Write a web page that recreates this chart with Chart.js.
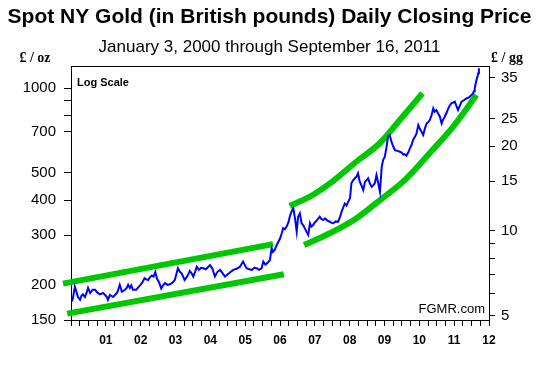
<!DOCTYPE html>
<html lang="en">
<head>
    <meta charset="UTF-8">
    <title>Spot NY Gold in British pounds</title>
    <style>
        body { margin: 0; background: #fff; }
        .container { width: 539px; height: 369px; position: relative; }
    </style>
</head>
<body>
    <div class="container">
        <canvas id="gold-chart"></canvas>
    </div>
    <script src="https://cdn.jsdelivr.net/npm/chart.js"></script>

    <script>
        // GOLD PRICE (decimal year, £ per troy ounce)

        const tradeYears = [
            2000.01, 2000.05, 2000.11, 2000.15, 2000.20, 2000.26, 2000.30, 2000.34, 2000.40, 2000.46,
            2000.49, 2000.55, 2000.62, 2000.69, 2000.75, 2000.83, 2000.92, 2000.98, 2001.03, 2001.06,
            2001.12, 2001.21, 2001.26, 2001.33, 2001.40, 2001.46, 2001.55, 2001.60, 2001.64, 2001.69,
            2001.73, 2001.78, 2001.87, 2001.93, 2001.98, 2002.05, 2002.11, 2002.16, 2002.21, 2002.27,
            2002.32, 2002.37, 2002.42, 2002.47, 2002.53, 2002.59, 2002.64, 2002.70, 2002.77, 2002.84,
            2002.92, 2002.98, 2003.07, 2003.12, 2003.17, 2003.22, 2003.26, 2003.31, 2003.36, 2003.41,
            2003.47, 2003.51, 2003.56, 2003.61, 2003.67, 2003.73, 2003.80, 2003.87, 2003.93, 2003.99,
            2004.06, 2004.13, 2004.20, 2004.28, 2004.35, 2004.42, 2004.50, 2004.58, 2004.66, 2004.75,
            2004.85, 2004.94, 2004.99, 2005.04, 2005.12, 2005.19, 2005.26, 2005.33, 2005.40, 2005.47,
            2005.52, 2005.58, 2005.64, 2005.71, 2005.76, 2005.80, 2005.85, 2005.90, 2005.95, 2006.00,
            2006.05, 2006.09, 2006.14, 2006.19, 2006.24, 2006.28, 2006.33, 2006.38, 2006.43, 2006.48,
            2006.52, 2006.57, 2006.62, 2006.67, 2006.71, 2006.76, 2006.81, 2006.86, 2006.90, 2006.95,
            2007.00, 2007.07, 2007.14, 2007.19, 2007.24, 2007.30, 2007.36, 2007.43, 2007.48, 2007.53,
            2007.60, 2007.67, 2007.72, 2007.77, 2007.82, 2007.86, 2007.91, 2007.96, 2008.01, 2008.05,
            2008.10, 2008.15, 2008.20, 2008.24, 2008.29, 2008.34, 2008.39, 2008.44, 2008.48, 2008.53,
            2008.58, 2008.63, 2008.68, 2008.72, 2008.77, 2008.82, 2008.87, 2008.92, 2008.96, 2009.01,
            2009.06, 2009.10, 2009.15, 2009.20, 2009.25, 2009.30, 2009.37, 2009.44, 2009.49, 2009.54,
            2009.58, 2009.63, 2009.68, 2009.73, 2009.78, 2009.82, 2009.87, 2009.92, 2009.97, 2010.02,
            2010.06, 2010.11, 2010.16, 2010.21, 2010.25, 2010.30, 2010.35, 2010.40, 2010.44, 2010.49,
            2010.54, 2010.59, 2010.64, 2010.68, 2010.73, 2010.78, 2010.83, 2010.87, 2010.92, 2010.97,
            2011.02, 2011.07, 2011.11, 2011.16, 2011.21, 2011.28, 2011.35, 2011.42, 2011.50, 2011.54,
            2011.57, 2011.59, 2011.62, 2011.64, 2011.67, 2011.69, 2011.71
        ]

        const gbpPerOz = [
            174, 178, 197, 190, 181, 177, 183, 185, 181, 189,
            195, 187, 192, 192, 188, 185, 187, 184, 181, 177,
            184, 181, 184, 188, 200, 189, 192, 195, 200, 195,
            199, 192, 192, 196, 199, 204, 211, 209, 208, 213,
            216, 214, 222, 210, 204, 194, 199, 203, 200, 201,
            204, 208, 229, 223, 220, 214, 208, 212, 217, 224,
            219, 214, 222, 232, 226, 230, 229, 227, 231, 235,
            228, 214, 222, 226, 220, 214, 218, 222, 226, 228,
            232, 242, 235, 229, 227, 226, 230, 229, 226, 229,
            242, 236, 239, 245, 270, 262, 266, 276, 284, 292,
            305, 318, 315, 322, 333, 349, 364, 374, 345, 309,
            349, 359, 331, 325, 318, 309, 301, 331, 322, 326,
            333, 340, 349, 342, 340, 344, 338, 335, 332, 331,
            336, 335, 348, 364, 378, 389, 383, 395, 406, 459,
            470, 478, 485, 498, 465, 450, 434, 465, 470, 478,
            458, 446, 452, 459, 491, 459, 428, 525, 555, 570,
            619, 671, 681, 645, 620, 602, 598, 594, 590, 580,
            582, 575, 590, 611, 630, 654, 670, 690, 739, 715,
            700, 681, 719, 749, 755, 770, 800, 847, 824, 835,
            812, 791, 749, 772, 791, 815, 847, 865, 882, 888,
            894, 860, 835, 865, 894, 905, 919, 925, 944, 958,
            975, 998, 1040, 1068, 1100, 1128, 1175
        ]

        // TREND CHANNELS (green)

        const earlyTopYears = [1999.77, 2005.80]
        const earlyTopPrices = [202, 279]
        const earlyBottomYears = [1999.89, 2006.11]
        const earlyBottomPrices = [158, 218]

        const lateTopYears = [2006.28, 2006.94, 2007.52, 2008.18, 2008.87, 2009.44, 2010.09]
        const lateTopPrices = [381, 417, 467, 546, 638, 770, 958]
        const lateBottomYears = [2006.69, 2007.43, 2008.20, 2008.87, 2009.58, 2010.30, 2010.96, 2011.64]
        const lateBottomPrices = [277, 305, 345, 400, 471, 588, 727, 944]

        // AXES

        const ozTicks = [150, 200, 300, 400, 500, 700, 800, 900, 1000]
        const ozLabels = [150, 200, 300, 400, 500, 700, 1000]
        const ggTicks = [5, 6, 7, 8, 9, 10, 15, 20, 25, 35]
        const ggLabels = [5, 10, 15, 20, 25, 35]
        const gramsPerOz = 31.1035
        const ozMin = 150
        const ozMax = 1197.5
    </script>

    <script>
        const toPoints = (xs, ys) => xs.map((x, i) => ({ x: x, y: ys[i] }));

        const greenLine = (xs, ys, curved) => ({
            data: toPoints(xs, ys),
            borderColor: '#00c800',
            borderWidth: 6,
            pointRadius: 0,
            tension: curved ? 0.4 : 0,
            cubicInterpolationMode: curved ? 'monotone' : 'default',
            clip: false,
            order: 2
        });

        // frame top line and the loose labels
        const extras = {
            id: 'extras',
            afterDraw(chart) {
                const { ctx, chartArea: a } = chart;
                ctx.save();
                ctx.strokeStyle = '#000';
                ctx.lineWidth = 1;
                ctx.beginPath();
                ctx.moveTo(a.left, a.top + 0.5);
                ctx.lineTo(a.right, a.top + 0.5);
                ctx.stroke();

                ctx.fillStyle = '#000';
                ctx.textBaseline = 'middle';
                ctx.font = 'bold 14px "Liberation Serif", serif';
                ctx.textAlign = 'center';
                ctx.fillText('£ / oz', 35, a.top - 8);
                ctx.fillText('£ / gg', a.right + 18, a.top - 8);

                ctx.textAlign = 'left';
                ctx.font = 'bold 11px Arial, "Liberation Sans", sans-serif';
                ctx.fillText('Log Scale', a.left + 6, a.top + 17);

                ctx.textAlign = 'right';
                ctx.font = '13px Arial, "Liberation Sans", sans-serif';
                ctx.fillText('FGMR.com', a.right - 4, a.bottom - 11);
                ctx.restore();
            }
        };

        Chart.defaults.font.family = 'Arial, "Liberation Sans", sans-serif';
        Chart.defaults.color = '#000';

        new Chart(document.getElementById('gold-chart'), {
            type: 'line',
            data: {
                datasets: [
                    {
                        label: 'Gold £/oz',
                        data: toPoints(tradeYears, gbpPerOz),
                        borderColor: '#0000ff',
                        borderWidth: 2,
                        pointRadius: 0,
                        tension: 0,
                        order: 1
                    },
                    greenLine(earlyTopYears, earlyTopPrices, false),
                    greenLine(earlyBottomYears, earlyBottomPrices, false),
                    greenLine(lateTopYears, lateTopPrices, true),
                    greenLine(lateBottomYears, lateBottomPrices, true)
                ]
            },
            options: {
                responsive: true,
                maintainAspectRatio: false,
                animation: false,
                layout: { padding: 0 },
                scales: {
                    x: {
                        type: 'linear',
                        min: 2000,
                        max: 2012,
                        afterBuildTicks: (scale) => {
                            const ticks = [];
                            for (let q = 0; q <= 48; q++) ticks.push({ value: 2000 + q / 4 });
                            scale.ticks = ticks;
                        },
                        afterFit: (scale) => { scale.height = 49; },
                        ticks: {
                            autoSkip: false,
                            maxRotation: 0,
                            minRotation: 0,
                            padding: 7,
                            font: { size: 12, weight: 'bold' },
                            callback: (v) => (Number.isInteger(v) && v > 2000) ? String(v).slice(2) : ''
                        },
                        grid: { drawOnChartArea: false, tickLength: 6, color: '#000' },
                        border: { color: '#000' }
                    },
                    y: {
                        type: 'logarithmic',
                        position: 'left',
                        min: ozMin,
                        max: ozMax,
                        afterBuildTicks: (scale) => { scale.ticks = ozTicks.map(v => ({ value: v })); },
                        afterFit: (scale) => { scale.width = 71; },
                        ticks: {
                            autoSkip: false,
                            padding: 8,
                            font: { size: 15 },
                            callback: (v) => ozLabels.includes(v) ? String(v) : ''
                        },
                        grid: { drawOnChartArea: false, tickLength: 7, color: '#000' },
                        border: { color: '#000' }
                    },
                    gg: {
                        type: 'logarithmic',
                        position: 'right',
                        min: ozMin / gramsPerOz,
                        max: ozMax / gramsPerOz,
                        afterBuildTicks: (scale) => { scale.ticks = ggTicks.map(v => ({ value: v })); },
                        afterFit: (scale) => { scale.width = 50; },
                        ticks: {
                            autoSkip: false,
                            padding: 6,
                            font: { size: 15 },
                            callback: (v) => ggLabels.includes(v) ? String(v) : ''
                        },
                        grid: { drawOnChartArea: false, tickLength: 6, color: '#000' },
                        border: { color: '#000' }
                    }
                },
                plugins: {
                    legend: { display: false },
                    tooltip: { enabled: false },
                    title: {
                        display: true,
                        text: 'Spot NY Gold (in British pounds) Daily Closing Price',
                        color: '#000',
                        font: { size: 21, weight: 'bold' },
                        padding: { top: 5, bottom: 7 }
                    },
                    subtitle: {
                        display: true,
                        text: 'January 3, 2000 through September 16, 2011',
                        color: '#000',
                        font: { size: 17 },
                        padding: { top: 0, bottom: 8.4 }
                    }
                }
            },
            plugins: [extras]
        });
    </script>
</body>
</html>
